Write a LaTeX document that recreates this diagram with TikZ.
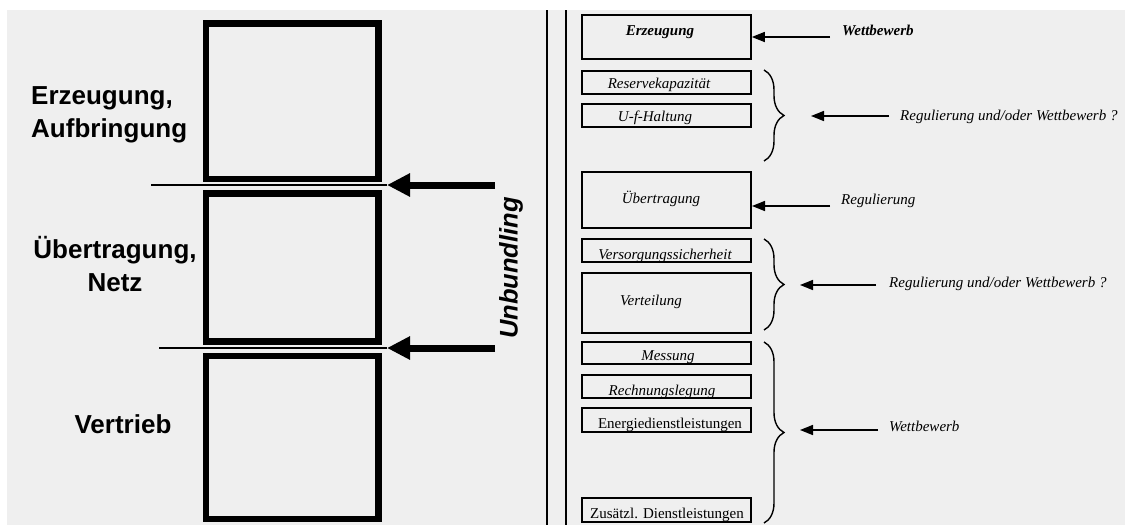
\documentclass[tikz,border=0pt]{standalone}
\usepackage{fontspec}
\setmainfont{Liberation Serif}
\setsansfont{Liberation Sans}
\usetikzlibrary{arrows.meta,decorations.pathreplacing}
\definecolor{scan}{HTML}{EFEFEF}

\begin{document}
\begin{tikzpicture}[x=1pt, y=-1pt,
		stage/.style={draw, line width=6.5pt, minimum width=172.5},
		stagelabel/.style={inner sep=0pt, font=\sffamily\bfseries\fontsize{26}{33}\selectfont},
		part/.style={draw, line width=1.6pt, minimum width=169, inner sep=0pt},
		parttext/.style={anchor=base, inner sep=0pt, font=\itshape\fontsize{15}{18}\selectfont},
		rule/.style={anchor=base west, inner sep=0pt, font=\itshape\fontsize{15}{18}\selectfont},
		cut/.style={line width=7pt, -{Triangle[length=23pt, width=22pt]}},
		assign/.style={line width=1.6pt, -{Triangle[length=13pt, width=10pt]}},
		group/.style={line width=1.4pt, decorate, decoration={brace, amplitude=20pt}}
		]
	\useasboundingbox (0,0) rectangle (1125,525);
	\fill[white] (0,0) rectangle (1125,525);
	\fill[scan] (7,10) rectangle (1125,525);

	% value chain, left
	\node [stage, minimum height=155.5] (erzeug) at (292,101) {};
	\node [stage, minimum height=148] (netz) at (292,267.5) {};
	\node [stage, minimum height=163] (vertrieb) at (292,437.5) {};
	\node [stagelabel, anchor=west, align=left] (lerzeug) at (31,115) {Erzeugung,\\Aufbringung};
	\node [stagelabel, align=center] (lnetz) at (115,264) {Übertragung,\\Netz};
	\node [stagelabel] (lvertrieb) at (123,424) {Vertrieb};

	\coordinate (cut1) at (387,185);
	\coordinate (cut2) at (387,348);
	\coordinate (line1) at (151,185);
	\coordinate (line2) at (159,348);
	\coordinate (ub1) at (495,185);
	\coordinate (ub2) at (495,348);
	\draw [line width=1.2pt] (line1) -- (cut1);
	\draw [line width=1.2pt] (line2) -- (cut2);
	\draw [cut] (ub1) -- (cut1);
	\draw [cut] (ub2) -- (cut2);
	\node [rotate=90, font=\sffamily\bfseries\itshape\fontsize{25.5}{30}\selectfont] (unbund) at (511,268) {Unbundling};

	% separator
	\draw [line width=1.5pt] (547,10) -- (547,525);
	\draw [line width=1.5pt] (566,10) -- (566,525);

	% functions, right
	\node [part, minimum height=44] (erz) at (666.5,37) {};
	\node [part, minimum height=23] (res) at (666.5,82.5) {};
	\node [part, minimum height=23] (ufh) at (666.5,115.5) {};
	\node [part, minimum height=56] (uebr) at (666.5,200) {};
	\node [part, minimum height=23] (vers) at (666.5,250.5) {};
	\node [part, minimum height=60] (vert) at (666.5,303) {};
	\node [part, minimum height=22] (mess) at (666.5,353) {};
	\node [part, minimum height=23] (rech) at (666.5,386.5) {};
	\node [part, minimum height=24] (ener) at (666.5,420) {};
	\node [part, minimum height=24] (zus) at (666.5,510) {};

	\node [parttext, font=\bfseries\itshape\fontsize{15}{18}\selectfont] (terz) at (660,35) {Erzeugung};
	\node [parttext] (tres) at (659,88) {Reservekapazität};
	\node [parttext] (tufh) at (655,121) {U-f-Haltung};
	\node [parttext] (tuebr) at (661,203) {Übertragung};
	\node [parttext] (tvers) at (665,259) {Versorgungssicherheit};
	\node [parttext] (tvert) at (651,305) {Verteilung};
	\node [parttext] (tmess) at (668,360) {Messung};
	\node [parttext] (trech) at (662,395) {Rechnungslegung};
	\node [parttext, font=\fontsize{15}{18}\selectfont] (tener) at (670,428) {Energiedienstleistungen};
	\node [parttext, font=\fontsize{15}{18}\selectfont] (tzus) at (667,518) {Zusätzl. Dienstleistungen};

	\draw [group] (764,70) -- (764,161);
	\draw [group] (764,239) -- (764,330);
	\draw [group] (764,342) -- (764,523);
	\coordinate (brace1) at (811,116);
	\coordinate (brace2) at (800,285);
	\coordinate (brace3) at (800,430);
	\coordinate (uebrin) at (752,206);

	\node [rule, font=\bfseries\itshape\fontsize{15}{18}\selectfont] (wett1) at (842,35) {Wettbewerb};
	\node [rule] (regwett1) at (900,120) {Regulierung und/oder Wettbewerb ?};
	\node [rule] (reg) at (841,204) {Regulierung};
	\node [rule] (regwett2) at (889,287) {Regulierung und/oder Wettbewerb ?};
	\node [rule] (wett2) at (889,431) {Wettbewerb};

	\draw [assign] ([xshift=-12pt]wett1.west |- erz.east) -- (erz.east);
	\draw [assign] ([xshift=-11pt]regwett1.west |- brace1) -- (brace1);
	\draw [assign] ([xshift=-11pt]reg.west |- uebrin) -- (uebrin);
	\draw [assign] ([xshift=-13pt]regwett2.west |- brace2) -- (brace2);
	\draw [assign] ([xshift=-11pt]wett2.west |- brace3) -- (brace3);
\end{tikzpicture}
\end{document}
